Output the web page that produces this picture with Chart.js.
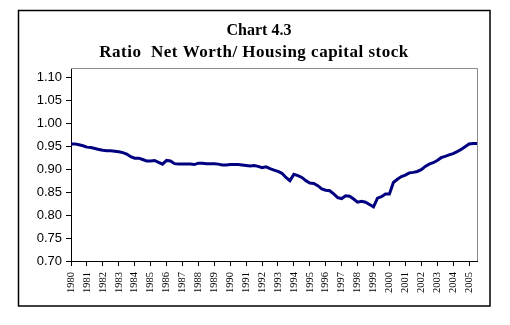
<!DOCTYPE html>
<html>
<head>
<meta charset="utf-8">
<script src="https://cdn.jsdelivr.net/npm/chart.js@4.4.1/dist/chart.umd.min.js"></script>
<style>
  html, body { margin: 0; padding: 0; background: #ffffff; }
  #wrap { width: 510px; height: 325px; }
</style>
</head>
<body>
<div id="wrap"><canvas id="c" width="510" height="325"></canvas></div>
<script>
// ---- data ----
const titleLines = ["Chart 4.3", "Ratio  Net Worth/ Housing capital stock"];
const years = [1980,1981,1982,1983,1984,1985,1986,1987,1988,1989,1990,1991,1992,
               1993,1994,1995,1996,1997,1998,1999,2000,2001,2002,2003,2004,2005];
const yTicks = [0.70,0.75,0.80,0.85,0.90,0.95,1.00,1.05,1.10];
// quarterly ratio, 1980Q1 .. 2005Q3
const ratio = [
  0.955,0.955,0.953,0.951,  // 1980
  0.948,0.947,0.945,0.943,  // 1981
  0.941,0.940,0.940,0.939,  // 1982
  0.938,0.936,0.933,0.927,  // 1983
  0.924,0.924,0.921,0.918,  // 1984
  0.918,0.919,0.915,0.911,  // 1985
  0.919,0.918,0.912,0.911,  // 1986
  0.911,0.911,0.911,0.910,  // 1987
  0.913,0.913,0.912,0.912,  // 1988
  0.912,0.911,0.909,0.909,  // 1989
  0.910,0.910,0.910,0.909,  // 1990
  0.908,0.907,0.908,0.906,  // 1991
  0.903,0.905,0.901,0.898,  // 1992
  0.895,0.891,0.882,0.875,  // 1993
  0.889,0.886,0.882,0.875,  // 1994
  0.870,0.869,0.864,0.857,  // 1995
  0.854,0.853,0.846,0.838,  // 1996
  0.836,0.842,0.841,0.835,  // 1997
  0.828,0.830,0.828,0.823,  // 1998
  0.818,0.837,0.840,0.846,  // 1999
  0.846,0.871,0.878,0.884,  // 2000
  0.887,0.892,0.893,0.895,  // 2001
  0.899,0.906,0.911,0.914,  // 2002
  0.919,0.925,0.928,0.931,  // 2003
  0.934,0.938,0.943,0.949,  // 2004
  0.955,0.956,0.956         // 2005
];

// build point table (x = year + quarter/4)
const points = ratio.map((v, i) => ({ x: years[0] + i / 4, y: v }));

const framePlugin = {
  id: 'frame',
  afterDraw(chart) {
    const ctx = chart.ctx;
    const a = chart.chartArea;
    ctx.save();
    // outer frame
    ctx.strokeStyle = '#000000';
    ctx.lineWidth = 1.5;
    ctx.strokeRect(18.5, 10.5, 471.5, 295.5);
    // plot area top/right border (grey)
    ctx.strokeStyle = '#8c8c8c';
    ctx.lineWidth = 1;
    ctx.beginPath();
    ctx.moveTo(a.left, a.top + 0.5);
    ctx.lineTo(a.right + 0.5, a.top + 0.5);
    ctx.lineTo(a.right + 0.5, a.bottom);
    ctx.stroke();
    // title
    ctx.fillStyle = '#000000';
    ctx.textAlign = 'center';
    ctx.textBaseline = 'alphabetic';
    ctx.font = 'bold 16px "Liberation Serif", "DejaVu Serif", serif';
    ctx.fillText(titleLines[0], 259, 35);
    ctx.font = 'bold 17px "Liberation Serif", "DejaVu Serif", serif';
    if ('letterSpacing' in ctx) ctx.letterSpacing = '0.5px';
    ctx.fillText(titleLines[1], 254, 57);
    ctx.restore();
  }
};

new Chart(document.getElementById('c'), {
  type: 'line',
  data: {
    datasets: [{
      data: points,
      borderColor: '#000080',
      borderWidth: 3,
      pointRadius: 0,
      tension: 0,
      fill: false
    }]
  },
  options: {
    responsive: false,
    devicePixelRatio: 1,
    animation: false,
    layout: { padding: { top: 68, right: 33, left: 0, bottom: 0 } },
    plugins: { legend: { display: false }, title: { display: false }, tooltip: { enabled: false } },
    scales: {
      x: {
        type: 'linear',
        min: years[0],
        max: years[0] + (ratio.length - 1) / 4,
        afterBuildTicks: s => { s.ticks = years.map(v => ({ value: v })); },
        afterFit: s => { s.height = 64; },
        grid: { drawOnChartArea: false, drawTicks: true, tickLength: 5, color: '#000000', tickWidth: 1 },
        border: { display: true, color: '#000000', width: 1 },
        ticks: {
          autoSkip: false,
          maxRotation: 90,
          minRotation: 90,
          padding: 6,
          color: '#000000',
          font: { family: '"Liberation Serif", "DejaVu Serif", serif', size: 10.5 },
          callback: v => String(v)
        }
      },
      y: {
        type: 'linear',
        min: 0.70,
        max: 1.1203,
        afterBuildTicks: s => { s.ticks = yTicks.map(v => ({ value: v })); },
        afterFit: s => { s.width = 71; },
        grid: { drawOnChartArea: false, drawTicks: true, tickLength: 5, color: '#000000' },
        border: { display: true, color: '#000000', width: 1 },
        ticks: {
          padding: 4,
          color: '#000000',
          font: { family: '"Liberation Sans", Arial, sans-serif', size: 13 },
          callback: v => Number(v).toFixed(2)
        }
      }
    }
  },
  plugins: [framePlugin]
});
</script>
</body>
</html>
